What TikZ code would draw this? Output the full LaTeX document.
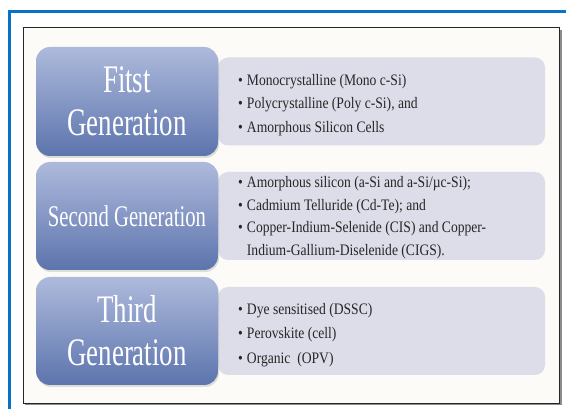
\documentclass[tikz,border=0pt]{standalone}
\usepackage{fontspec}
\setmainfont{Liberation Serif}
\newfontfamily\genfont[FakeStretch=0.69]{Liberation Serif}
\newfontfamily\itemfont[FakeStretch=0.85]{Liberation Serif}
\usetikzlibrary{shadows}
\definecolor{frameblue}{HTML}{0A72C4}
\definecolor{boxtop}{HTML}{AEBADC}
\definecolor{boxbot}{HTML}{5C74AD}
\definecolor{itemfill}{HTML}{DDDCE9}
\definecolor{paper}{HTML}{FCFBF8}
\definecolor{itemtext}{HTML}{262626}
\begin{document}
\begin{tikzpicture}[x=1pt,y=-1pt,
  genbox/.style={rectangle, rounded corners=14pt, top color=boxtop, bottom color=boxbot,
    minimum width=182pt, minimum height=108pt, inner sep=0pt, text=white, align=center,
    font=\genfont\fontsize{39}{43}\selectfont,
    drop shadow={shadow xshift=1pt, shadow yshift=-2pt, opacity=0.25}},
  itembox/.style={rectangle, rounded corners=10pt, fill=itemfill, minimum width=327pt,
    minimum height=88pt, inner sep=0pt},
  itemlist/.style={anchor=west, inner sep=0pt, text=itemtext, align=left,
    font=\itemfont\fontsize{16}{23.5}\selectfont}
]
\useasboundingbox (0,0) rectangle (566,409);
\fill[white] (0,0) rectangle (566,409);
% outer blue frame
\draw[frameblue, line width=3.5pt] (9.5,412) |- (570,11.5);
% inner frame with shadow
\fill[black!45] (25,30) rectangle (561.5,405.5);
\fill[paper] (23,28) rectangle (559.5,403.5);
\draw[black!85, line width=1pt] (23,28) rectangle (559.5,403.5);
% item boxes
\node[itembox] (i1) at (381.5,101.5) {};
\node[itembox] (i2) at (381.5,216) {};
\node[itembox] (i3) at (381.5,331) {};
% generation boxes
\node[genbox, minimum height=109pt] (g1) at (127,101.5) {Fitst\\Generation};
\node[genbox, font=\genfont\fontsize{30}{34}\selectfont] (g2) at (127,216) {Second Generation};
\node[genbox] (g3) at (127,331) {Third\\Generation};
% item texts
\node[itemlist] (t1) at (238,104) {\begin{tabular}{@{}l@{\hspace{4pt}}l@{}}
  •& Monocrystalline (Mono c-Si)\\
  •& Polycrystalline (Poly c-Si), and\\
  •& Amorphous Silicon Cells
  \end{tabular}};
\node[itemlist, font=\itemfont\fontsize{16}{22.5}\selectfont] (t2) at (238,217) {\begin{tabular}{@{}l@{\hspace{4pt}}l@{}}
  •& Amorphous silicon (a-Si and a-Si/µc-Si);\\
  •& Cadmium Telluride (Cd-Te); and\\
  •& Copper-Indium-Selenide (CIS) and Copper-\\
   & Indium-Gallium-Diselenide (CIGS).
  \end{tabular}};
\node[itemlist, font=\itemfont\fontsize{16}{24.5}\selectfont] (t3) at (238,334) {\begin{tabular}{@{}l@{\hspace{4pt}}l@{}}
  •& Dye sensitised (DSSC)\\
  •& Perovskite (cell)\\
  •& Organic\ \ (OPV)
  \end{tabular}};
\end{tikzpicture}
\end{document}
